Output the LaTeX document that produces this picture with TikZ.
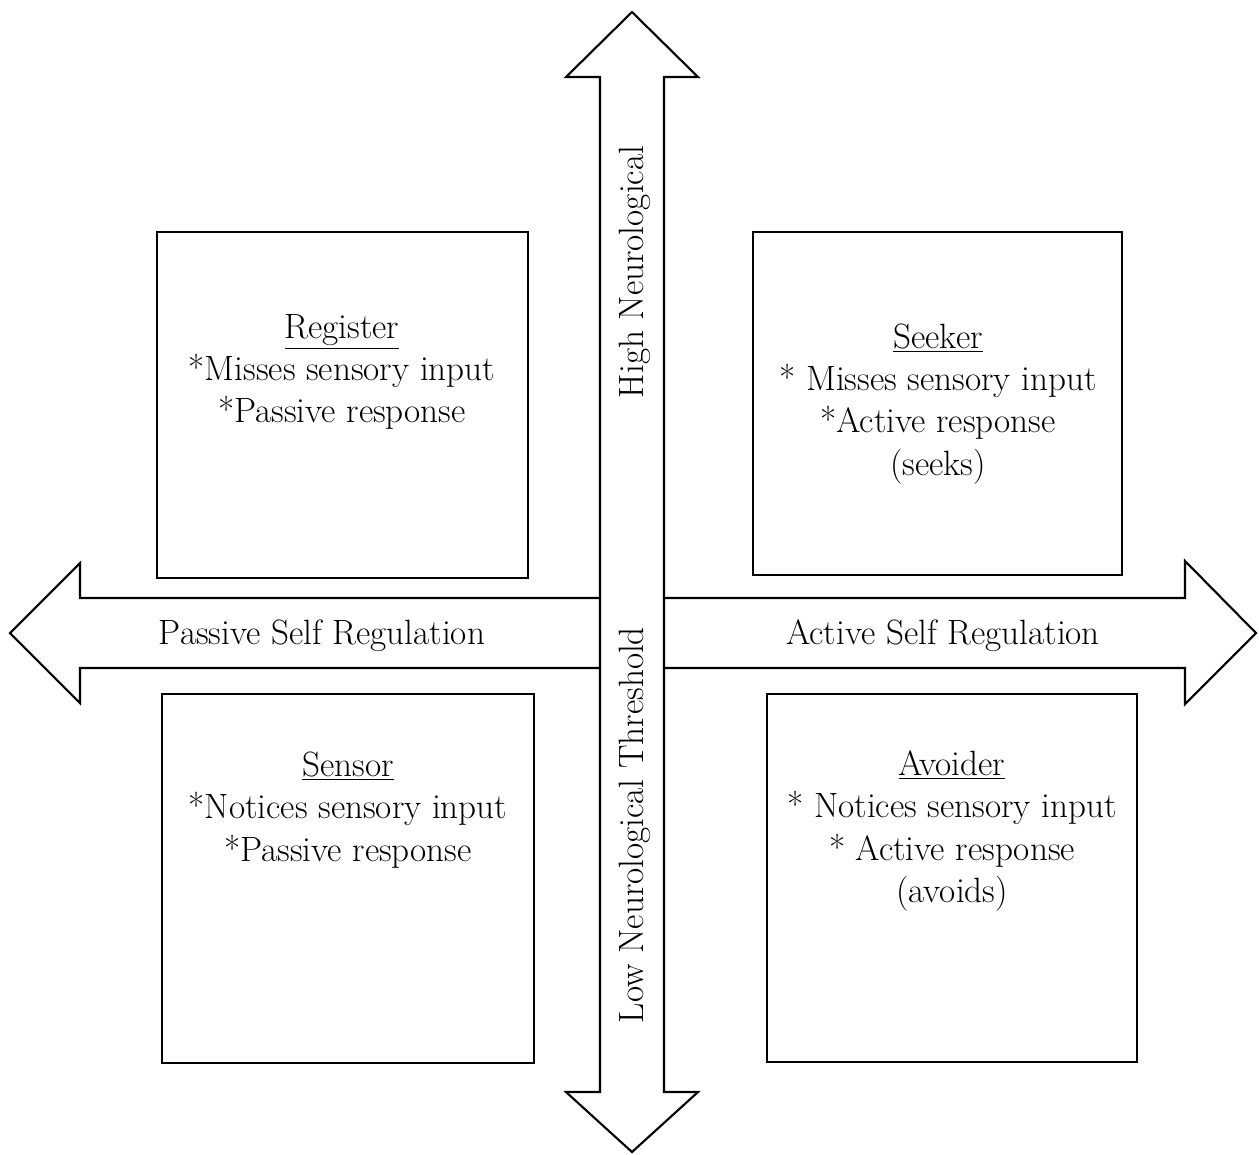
\documentclass[tikz,border=0pt]{standalone}
\usepackage{fontspec}
\begin{document}
\begin{tikzpicture}[x=0.2mm, y=-0.2mm,
    txt/.style={align=center, font=\fontsize{20}{24}\selectfont, inner sep=0pt},
    bigarrow/.style={line width=1.2pt, line join=miter, fill=white},
    box/.style={line width=0.6pt}]
    \useasboundingbox (0,0) rectangle (1259,1154);

    % Left arrow
    \draw[bigarrow] (600,598) -- (80,598) -- (80,563) -- (10,633) -- (80,703) -- (80,668) -- (600,668);
    \node[txt] (passive) at (322,636) {Passive Self Regulation};

    % Right arrow
    \draw[bigarrow] (664,598) -- (1185,598) -- (1185,561) -- (1256,633) -- (1185,704) -- (1185,668) -- (664,668);
    \node[txt] (active) at (943,636) {Active Self Regulation};

    % Vertical double arrow
    \draw[bigarrow] (632,12) -- (698,77) -- (664,77) -- (664,1092) -- (698,1092)
        -- (632,1152) -- (566,1092) -- (600,1092) -- (600,77) -- (566,77) -- cycle;
    \node[txt, rotate=90] (high) at (635,272) {High Neurological};
    \node[txt, rotate=90] (low) at (635,825) {Low Neurological Threshold};

    % Register
    \draw[box] (157,232) rectangle (528,578);
    \node[txt] (register) at (342,372) {\underline{Register}\\ *Misses sensory input\\ *Passive response};

    % Seeker
    \draw[box] (753,232) rectangle (1122,575);
    \node[txt] (seeker) at (938,404) {\underline{Seeker}\\ * Misses sensory input\\ *Active response\\ (seeks)};

    % Sensor
    \draw[box] (162,694) rectangle (534,1063);
    \node[txt] (sensor) at (348,810) {\underline{Sensor}\\ *Notices sensory input\\ *Passive response};

    % Avoider
    \draw[box] (767,694) rectangle (1137,1062);
    \node[txt] (avoider) at (952,831) {\underline{Avoider}\\ * Notices sensory input\\ * Active response\\ (avoids)};
\end{tikzpicture}
\end{document}
